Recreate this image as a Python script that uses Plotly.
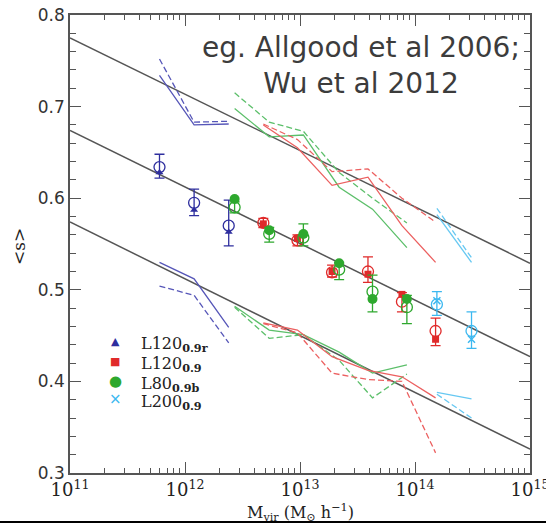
import plotly.graph_objects as go

# ---------------- data ----------------
# halo masses (Msun/h)
blue_m  = [6.0e11, 1.2e12, 2.4e12]
green_m = [2.7e12, 5.4e12, 1.07e13, 2.19e13, 4.27e13, 8.5e13]
red_m   = [4.8e12, 9.5e12, 1.9e13, 3.9e13, 7.7e13, 1.51e14]
cyan_m  = [1.55e14, 3.1e14]

# L120_0.9r (blue)
blue_filled = [0.628, 0.587, 0.563]
blue_open   = [0.634, 0.595, 0.570]
blue_hi     = [0.648, 0.610, 0.598]
blue_lo     = [0.622, 0.581, 0.548]
blue_up_solid  = [0.734, 0.680, 0.681]
blue_up_dash   = [0.752, 0.683, 0.684]
blue_low_solid = [0.530, 0.512, 0.459]
blue_low_dash  = [0.504, 0.494, 0.442]

# L80_0.9b (green)
green_filled = [0.599, 0.565, 0.561, 0.529, 0.490, 0.490]
green_open   = [0.590, 0.561, 0.557, 0.522, 0.498, 0.481]
green_hi     = [0.596, 0.568, 0.572, 0.530, 0.516, 0.494]
green_lo     = [0.584, 0.552, 0.548, 0.511, 0.476, 0.463]
green_up_solid  = [0.698, 0.667, 0.669, 0.612, 0.588, 0.546]
green_up_dash   = [0.715, 0.683, 0.673, 0.628, 0.600, 0.573]
green_low_solid = [0.482, 0.456, 0.451, 0.432, 0.409, 0.418]
green_low_dash  = [0.481, 0.447, 0.451, 0.423, 0.382, 0.408]

# L120_0.9 (red)
red_filled = [0.572, 0.556, 0.520, 0.517, 0.495, 0.446]
red_open   = [0.573, 0.554, 0.519, 0.520, 0.487, 0.455]
red_hi     = [0.578, 0.560, 0.527, 0.536, 0.497, 0.469]
red_lo     = [0.568, 0.548, 0.514, 0.508, 0.476, 0.439]
red_up_solid  = [0.680, 0.655, 0.614, 0.623, 0.570, 0.530]
red_up_dash   = [0.681, 0.664, 0.629, 0.632, 0.600, 0.574]
red_low_solid = [0.464, 0.456, 0.427, 0.412, 0.405, 0.382]
red_low_dash  = [0.463, 0.453, 0.409, 0.402, 0.400, 0.322]

# L200_0.9 (cyan)
cyan_filled = [0.488, 0.446]
cyan_open   = [0.484, 0.455]
cyan_hi     = [0.498, 0.476]
cyan_lo     = [0.472, 0.436]
cyan_up_solid  = [0.582, 0.530]
cyan_up_dash   = [0.589, 0.535]
cyan_low_solid = [0.388, 0.381]
cyan_low_dash  = [0.386, 0.360]

# reference power-law fits (black lines)
fit_m    = [1e11, 1e15]
fit_top  = [0.775, 0.529]
fit_mid  = [0.674, 0.427]
fit_bot  = [0.574, 0.326]

x_tickvals = [1e11, 1e12, 1e13, 1e14, 1e15]
x_ticktext = ["10<sup>11</sup>", "10<sup>12</sup>", "10<sup>13</sup>", "10<sup>14</sup>", "10<sup>15</sup>"]
y_tickvals = [0.3, 0.4, 0.5, 0.6, 0.7, 0.8]
y_ticktext = ["0.3", "0.4", "0.5", "0.6", "0.7", "0.8"]

legend_names = ["L120<sub><b>0.9r</b></sub>", "L120<sub><b>0.9</b></sub>",
                "L80<sub><b>0.9b</b></sub>", "L200<sub><b>0.9</b></sub>"]

# ---------------- styling ----------------
C_BLUE, C_BLUE_L = "#2e2e9e", "#5656b8"
C_RED, C_RED_L = "#e02a2a", "#ec6060"
C_GREEN, C_GREEN_L = "#2ea82e", "#5cbf6a"
C_CYAN, C_CYAN_L = "#3cb8f0", "#66c8f2"
DASH = "6px,3px"

fig = go.Figure()

for yv in (fit_top, fit_mid, fit_bot):
    fig.add_trace(go.Scatter(x=fit_m, y=yv, mode="lines",
                             line=dict(color="#555555", width=1.5), showlegend=False))

def add_lines(m, ys, color, dash):
    fig.add_trace(go.Scatter(x=m, y=ys, mode="lines",
                             line=dict(color=color, width=1.3, dash=dash), showlegend=False))

for m, sets, col in [
    (blue_m, [(blue_up_solid, "solid"), (blue_up_dash, DASH), (blue_low_solid, "solid"), (blue_low_dash, DASH)], C_BLUE_L),
    (green_m, [(green_up_solid, "solid"), (green_up_dash, DASH), (green_low_solid, "solid"), (green_low_dash, DASH)], C_GREEN_L),
    (red_m, [(red_up_solid, "solid"), (red_up_dash, DASH), (red_low_solid, "solid"), (red_low_dash, DASH)], C_RED_L),
    (cyan_m, [(cyan_up_solid, "solid"), (cyan_up_dash, DASH), (cyan_low_solid, "solid"), (cyan_low_dash, DASH)], C_CYAN_L),
]:
    for ys, d in sets:
        add_lines(m, ys, col, d)

def add_points(m, op, hi, lo, filled, col, sym, fsize):
    fig.add_trace(go.Scatter(
        x=m, y=op, mode="markers",
        marker=dict(symbol="circle-open", size=11, color=col, line=dict(width=1.3, color=col)),
        error_y=dict(type="data", symmetric=False,
                     array=[h - o for h, o in zip(hi, op)],
                     arrayminus=[o - l for o, l in zip(op, lo)],
                     color=col, thickness=1.3, width=5),
        showlegend=False))
    mk = dict(symbol=sym, size=fsize, color=col)
    if sym.endswith("open"):
        mk["line"] = dict(width=1.5, color=col)
    fig.add_trace(go.Scatter(x=m, y=filled, mode="markers", marker=mk, showlegend=False))

add_points(blue_m, blue_open, blue_hi, blue_lo, blue_filled, C_BLUE, "triangle-up", 7)
add_points(red_m, red_open, red_hi, red_lo, red_filled, C_RED, "square", 7)
add_points(green_m, green_open, green_hi, green_lo, green_filled, C_GREEN, "circle", 10)
add_points(cyan_m, cyan_open, cyan_hi, cyan_lo, cyan_filled, C_CYAN, "x-thin-open", 7)

# ---------------- layout ----------------
L, R, T, B = 70, 16, 15, 52
W, H = 546, 525
pw, ph = W - L - R, H - T - B

def px(xp):
    return (xp - L) / pw

def py(yp):
    return (H - B - yp) / ph

ann = []
# legend (drawn as text)
glyphs = [("▲", C_BLUE, 11), ("■", C_RED, 11), ("●", C_GREEN, 15), ("×", C_CYAN, 15)]
rows_y = [341, 361, 381, 399]
for (g, c, s), name, ry in zip(glyphs, legend_names, rows_y):
    ann.append(dict(x=px(115), y=py(ry), xref="paper", yref="paper", text=g, showarrow=False,
                    font=dict(color=c, size=s, family="DejaVu Sans"), xanchor="center", yanchor="middle"))
    ann.append(dict(x=px(139), y=py(ry + 3), xref="paper", yref="paper", text=name, showarrow=False,
                    font=dict(color="#222222", size=16, family="DejaVu Serif"), xanchor="left", yanchor="middle"))

ann.append(dict(x=px(361), y=py(65), xref="paper", yref="paper",
                text="eg. Allgood et al 2006;<br>Wu et al 2012", showarrow=False, align="center",
                font=dict(color="#3c3c3c", size=28, family="DejaVu Sans"), xanchor="center", yanchor="middle"))
ann.append(dict(x=px(19), y=py(247), xref="paper", yref="paper", text="&lt;s&gt;", textangle=-90,
                showarrow=False, font=dict(color="#222222", size=17, family="DejaVu Serif"),
                xanchor="center", yanchor="middle"))
ann.append(dict(x=px(300), y=py(512), xref="paper", yref="paper",
                text="M<sub>vir</sub> (M<sub>⊙</sub> h<sup>−1</sup>)", showarrow=False,
                font=dict(color="#222222", size=16, family="DejaVu Serif"),
                xanchor="center", yanchor="middle"))

fig.update_layout(
    width=W, height=H,
    margin=dict(l=L, r=R, t=T, b=B, autoexpand=False),
    paper_bgcolor="white", plot_bgcolor="white",
    showlegend=False,
    annotations=ann,
    shapes=[dict(type="line", xref="paper", yref="paper", x0=px(0), x1=px(W), y0=py(522), y1=py(522),
                 line=dict(color="black", width=2))],
    xaxis=dict(type="log", range=[11, 15], tickvals=x_tickvals, ticktext=x_ticktext,
               ticks="inside", ticklen=11, tickwidth=1.3, tickcolor="#555555",
               showline=True, linecolor="#555555", linewidth=1.5, mirror="ticks",
               showgrid=False, zeroline=False, ticklabeloverflow="allow", automargin=False,
               tickfont=dict(family="DejaVu Serif", size=18, color="#222222"),
               minor=dict(ticks="inside", ticklen=5, tickwidth=1, tickcolor="#555555", dtick="D1", showgrid=False)),
    yaxis=dict(range=[0.3, 0.8], tickvals=y_tickvals, ticktext=y_ticktext,
               ticks="inside", ticklen=11, tickwidth=1.3, tickcolor="#555555",
               showline=True, linecolor="#555555", linewidth=1.5, mirror="ticks",
               showgrid=False, zeroline=False, automargin=False,
               tickfont=dict(family="DejaVu Sans", size=17, color="#333333"),
               minor=dict(ticks="inside", ticklen=6, tickwidth=1, tickcolor="#555555", dtick=0.02, showgrid=False)),
)

fig.write_html("out.html")
